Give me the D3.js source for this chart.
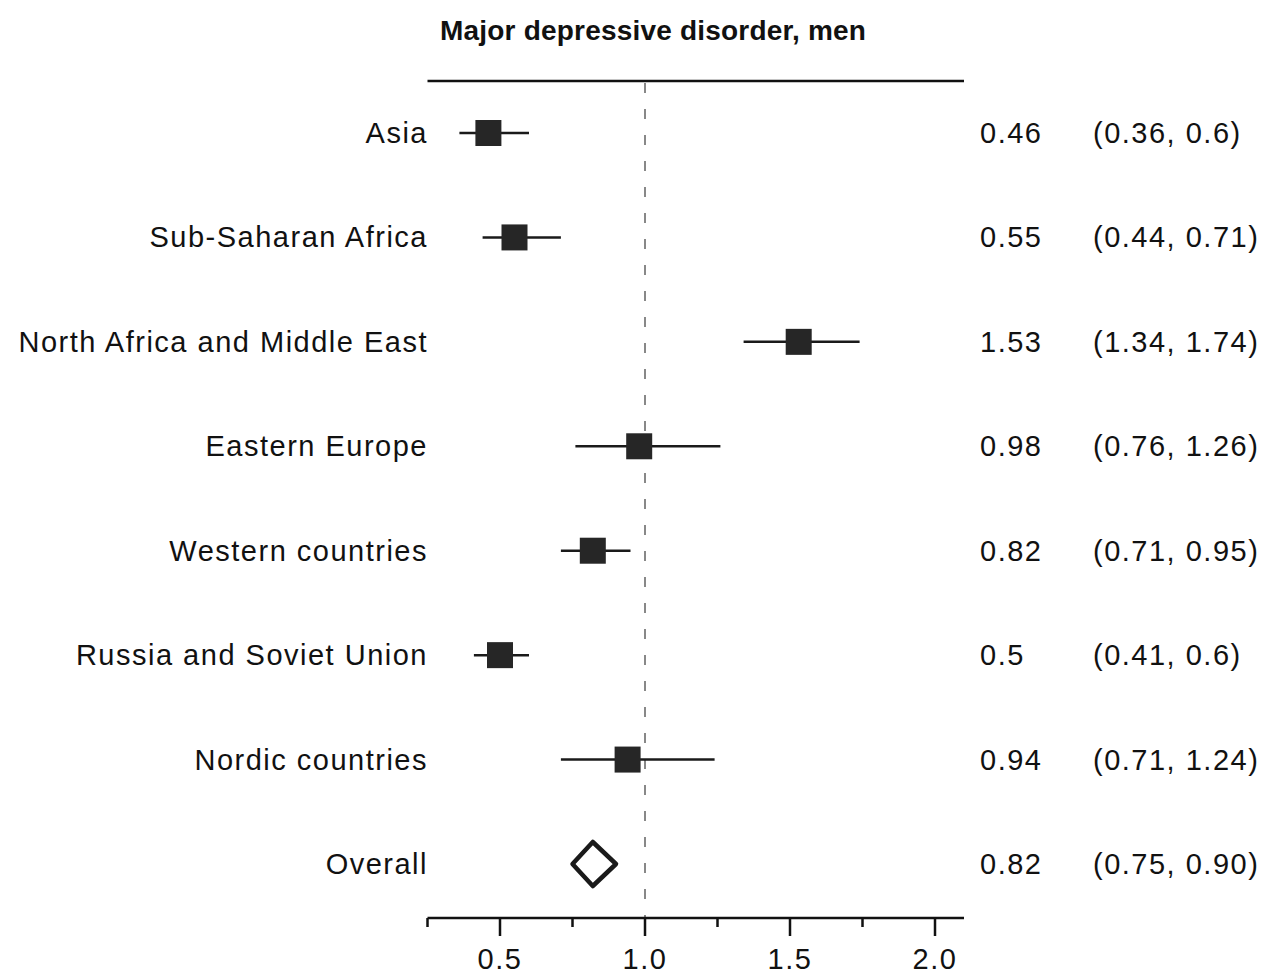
<!DOCTYPE html>
<html>
<head>
<meta charset="utf-8">
<script src="https://cdn.jsdelivr.net/npm/d3@7/dist/d3.min.js"></script>
<style>
  html, body { margin: 0; padding: 0; background: #fff; }
  svg { display: block; }
  text { font-family: "Liberation Sans", Arial, sans-serif; fill: #111; }
</style>
</head>
<body>
<svg id="chart" width="1266" height="980"></svg>
<script>
// Subgroups and their estimates with 95% confidence intervals
const categories = [
  "Asia",
  "Sub-Saharan Africa",
  "North Africa and Middle East",
  "Eastern Europe",
  "Western countries",
  "Russia and Soviet Union",
  "Nordic countries",
  "Overall"
];
const estimates = [0.46, 0.55, 1.53, 0.98, 0.82, 0.5, 0.94, 0.82];
const lowers    = [0.36, 0.44, 1.34, 0.76, 0.71, 0.41, 0.71, 0.75];
const uppers    = [0.6, 0.71, 1.74, 1.26, 0.95, 0.6, 1.24, 0.90];
const estimateLabels = ["0.46", "0.55", "1.53", "0.98", "0.82", "0.5", "0.94", "0.82"];
const intervalLabels = ["(0.36, 0.6)", "(0.44, 0.71)", "(1.34, 1.74)", "(0.76, 1.26)",
                        "(0.71, 0.95)", "(0.41, 0.6)", "(0.71, 1.24)", "(0.75, 0.90)"];
const majorTicks = [0.5, 1.0, 1.5, 2.0];
const minorTicks = [0.25, 0.75, 1.25, 1.75];
const title = "Major depressive disorder, men";

const svg = d3.select("#chart");

const x = d3.scaleLinear().domain([0.25, 2.1]).range([427.5, 964]);
const y = d3.scalePoint().domain(categories).range([133, 864]);

const rows = categories.map((c, i) => ({
  name: c, est: estimates[i], lo: lowers[i], hi: uppers[i],
  estLabel: estimateLabels[i], ciLabel: intervalLabels[i],
  overall: c === "Overall"
}));

const topY = 81, axisY = 918;
const fontSize = 29, spacing = "1.5px";

// Title
svg.append("text")
  .attr("x", 440).attr("y", 40)
  .attr("font-size", 28).attr("font-weight", "bold")
  .style("letter-spacing", "0.2px")
  .text(title);

// Top rule
svg.append("line")
  .attr("x1", x.range()[0]).attr("x2", x.range()[1])
  .attr("y1", topY).attr("y2", topY)
  .attr("stroke", "#111").attr("stroke-width", 2.5);

// Reference line at no effect
svg.append("line")
  .attr("x1", x(1)).attr("x2", x(1))
  .attr("y1", topY + 2).attr("y2", axisY)
  .attr("stroke", "#888").attr("stroke-width", 2)
  .attr("stroke-dasharray", "10,16");

// Bottom axis
const axis = svg.append("g").attr("transform", `translate(0,${axisY})`);
axis.append("line")
  .attr("x1", x.range()[0]).attr("x2", x.range()[1])
  .attr("stroke", "#111").attr("stroke-width", 2.5);
axis.selectAll(".major").data(majorTicks).join("line")
  .attr("x1", d => x(d)).attr("x2", d => x(d))
  .attr("y1", 0).attr("y2", 18)
  .attr("stroke", "#111").attr("stroke-width", 2.5);
axis.selectAll(".minor").data(minorTicks).join("line")
  .attr("x1", d => x(d)).attr("x2", d => x(d))
  .attr("y1", 0).attr("y2", 9)
  .attr("stroke", "#111").attr("stroke-width", 2.5);
axis.selectAll(".tickLabel").data(majorTicks).join("text")
  .attr("x", d => x(d)).attr("y", 51)
  .attr("text-anchor", "middle")
  .attr("font-size", fontSize)
  .style("letter-spacing", spacing)
  .text(d => d3.format(".1f")(d));

// Row labels
svg.selectAll(".rowLabel").data(rows).join("text")
  .attr("x", 428).attr("y", d => y(d.name) + 10)
  .attr("text-anchor", "end")
  .attr("font-size", fontSize)
  .style("letter-spacing", spacing)
  .text(d => d.name);

// Estimate and interval columns
svg.selectAll(".estLabel").data(rows).join("text")
  .attr("x", 980).attr("y", d => y(d.name) + 10)
  .attr("font-size", fontSize)
  .style("letter-spacing", spacing)
  .text(d => d.estLabel);
svg.selectAll(".ciLabel").data(rows).join("text")
  .attr("x", 1093).attr("y", d => y(d.name) + 10)
  .attr("font-size", fontSize)
  .style("letter-spacing", spacing)
  .text(d => d.ciLabel);

// Confidence intervals and point estimates for subgroups
const groups = rows.filter(d => !d.overall);
svg.selectAll(".ci").data(groups).join("line")
  .attr("x1", d => x(d.lo)).attr("x2", d => x(d.hi))
  .attr("y1", d => y(d.name)).attr("y2", d => y(d.name))
  .attr("stroke", "#1a1a1a").attr("stroke-width", 2.5);
const boxSize = 26;
svg.selectAll(".box").data(groups).join("rect")
  .attr("x", d => x(d.est) - boxSize / 2)
  .attr("y", d => y(d.name) - boxSize / 2)
  .attr("width", boxSize).attr("height", boxSize)
  .attr("fill", "#262626");

// Pooled estimate as a diamond spanning its interval
const pooled = rows.filter(d => d.overall);
svg.selectAll(".diamond").data(pooled).join("path")
  .attr("d", d => {
    const cy = y(d.name), h = 22;
    return `M${x(d.lo)},${cy} L${x(d.est)},${cy - h} L${x(d.hi)},${cy} L${x(d.est)},${cy + h} Z`;
  })
  .attr("fill", "#fff")
  .attr("stroke", "#1a1a1a").attr("stroke-width", 4.5)
  .attr("stroke-linejoin", "round");
</script>
</body>
</html>
